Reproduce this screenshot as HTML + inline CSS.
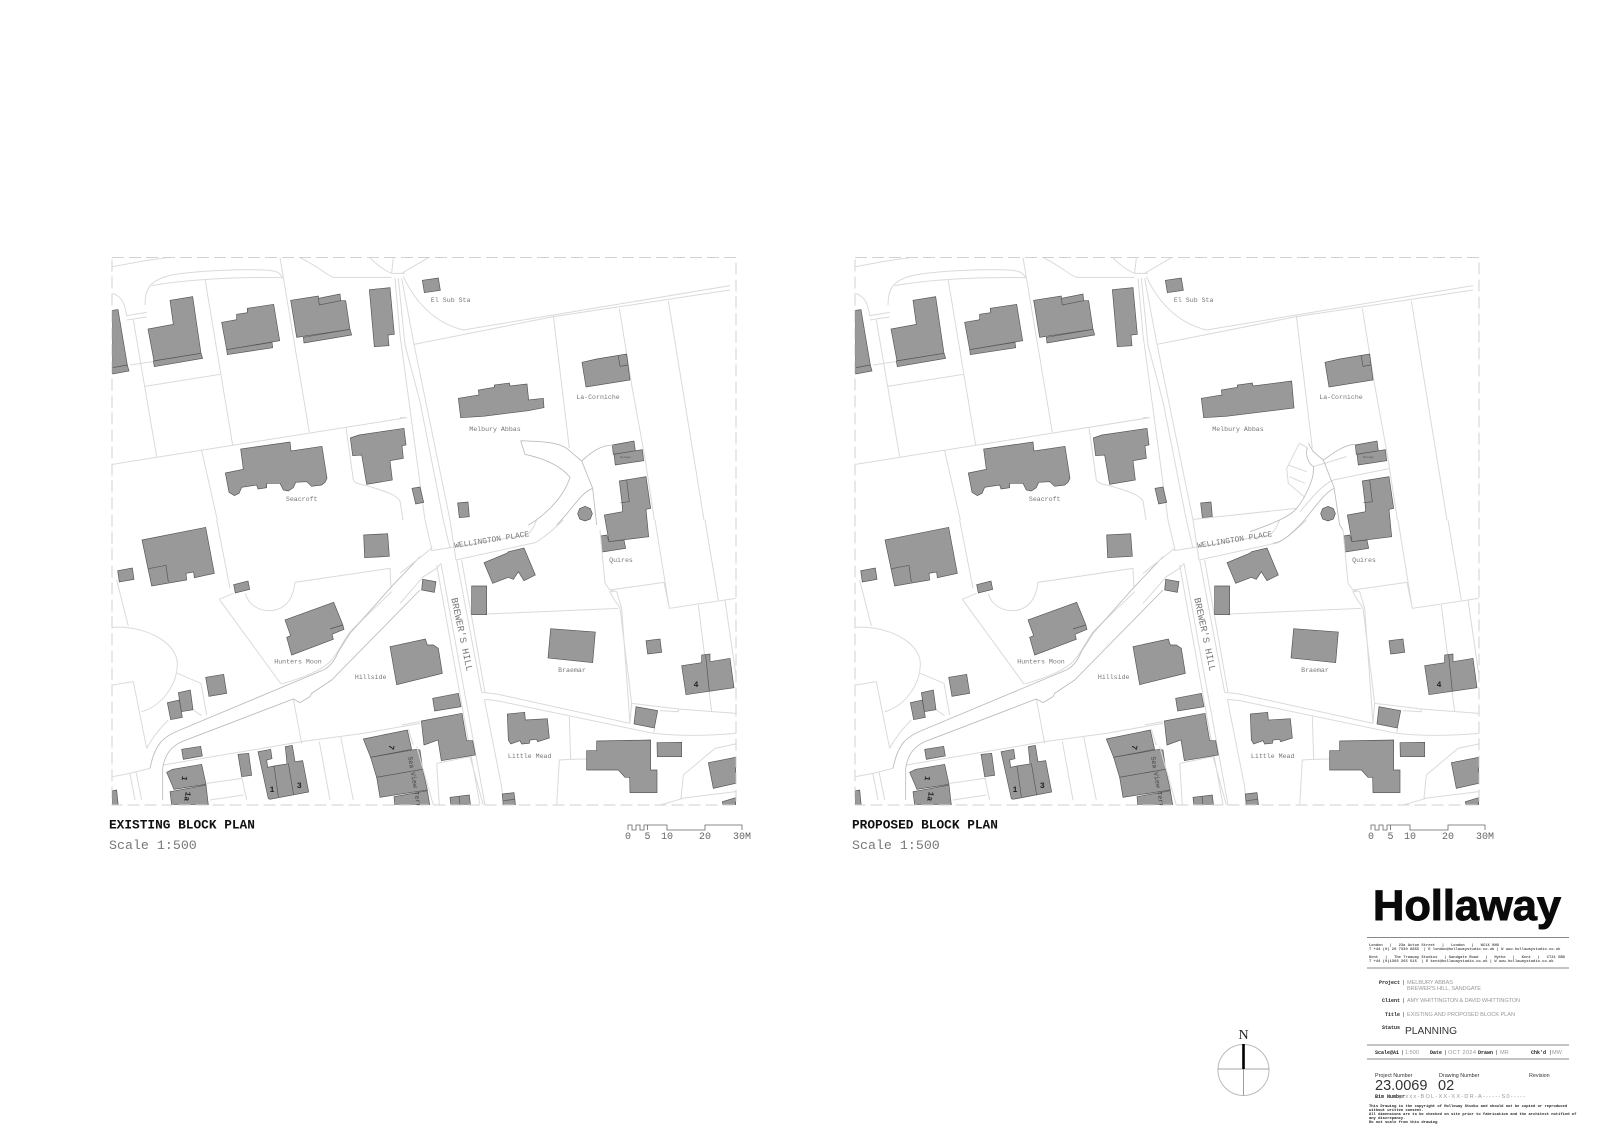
<!DOCTYPE html>
<html lang="en"><head><meta charset="utf-8"><title>Block Plan</title>
<style>
html,body{margin:0;padding:0;background:#fff;width:1600px;height:1130px;overflow:hidden}
svg{display:block}
.b polygon,.b circle{fill:#999;stroke:#555;stroke-width:2}
.b path{fill:none;stroke:#555;stroke-width:2}
.l path{fill:none;stroke:#dadada;stroke-width:3}
.r path{fill:none;stroke:#bcbcbc;stroke-width:2.6}
.m{font-family:"Liberation Mono",monospace;fill:#777;font-size:6.6px;text-anchor:middle}
.k{font-family:"Liberation Mono",monospace;fill:#222;font-size:8px;text-anchor:middle;font-weight:bold}
.s{font-family:"Liberation Mono",monospace;fill:#666;font-size:10px;text-anchor:middle}
.t{font-family:"Liberation Mono",monospace;font-weight:bold;fill:#222;font-size:5px}
.g{font-family:"Liberation Sans",sans-serif;fill:#999;font-size:5.6px}
.f{font-family:"Liberation Mono",monospace;font-weight:bold;fill:#555;font-size:3.8px}
.h{font-family:"Liberation Sans",sans-serif;fill:#333}
</style></head><body>
<svg width="1600" height="1130" viewBox="0 0 1600 1130" xmlns="http://www.w3.org/2000/svg">
<defs>
<clipPath id="pc"><rect x="112" y="257.5" width="624" height="547.5"/></clipPath>
<g id="common">
<g clip-path="url(#pc)">
<!-- zone A -->
<g transform="translate(100,245) scale(.33333)">
<g class="l">
<path d="M38,65 L130,48 L200,38 M135,180 C135,130 150,105 215,90 C300,75 480,70 520,78 C535,80 545,90 548,100 M155,122 C250,105 400,95 545,98 M540,38 L628,562 M600,38 C640,55 680,90 700,97 L875,97 M810,38 C830,60 860,80 875,85 M880,38 L875,85 M38,145 C65,155 75,175 80,212 L140,202 M80,225 L140,216 M100,225 L170,635 M90,360 L158,350 M135,424 L360,388 M315,102 L398,600 M38,658 L920,518 M305,617 L352,825 M738,548 L760,705 C765,715 780,718 800,722 C860,740 890,750 900,768 L909,825"/>
</g>
<g class="b">
<polygon points="38,196 54,194 82,360 38,368"/><polygon points="38,368 82,360 87,378 38,387"/>
<polygon points="210,166 278,155 303,325 162,348 144,252 220,238"/><polygon points="160,348 303,325 308,340 163,365"/>
<polygon points="365,232 410,224 410,208 442,203 442,190 521,178 539,287 380,314"/><polygon points="380,314 516,292 518,308 382,329"/>
<polygon points="572,166 655,153 655,160 720,147 722,167 737,167 750,253 590,277"/><polygon points="610,277 750,253 755,270 612,294"/><path d="M655,160 L658,180 L722,167"/>
<polygon points="808,134 870,128 883,268 864,270 867,302 823,305"/>
<polygon points="376,684 430,673 422,612 570,591 573,618 666,604 681,700 675,712 665,720 635,724 620,710 587,712 580,728 565,738 550,735 540,715 500,715 500,728 474,732 470,720 425,727 417,745 403,752 387,742"/>
<polygon points="751,579 777,570 912,550 918,600 906,602 910,640 870,647 877,705 800,718 785,630 758,632"/>
</g>
</g>
<!-- zone B -->
<g transform="translate(400,245) scale(.33333)">
<g class="l">
<path d="M-15,100 L0,270 L75,825 L95,910 M-5,100 L15,300 L60,470 L130,825 L150,910 M5,100 L42,298 L150,825 L168,945 M10,95 C60,200 130,240 190,255 L460,210 L990,122 M42,298 L460,215 L660,185 L990,135 M460,212 L508,610 M658,190 L695,420 L735,640 L763,825 M805,168 L912,825 M0,518 L20,518 M5,85 L85,38 M-25,85 L15,85"/>
</g>
<g class="b">
<polygon points="36,730 60,726 71,772 47,777"/>
<polygon points="67,106 115,99 121,136 73,143"/>
<polygon points="546,352 590,342 680,327 690,405 558,426"/><path d="M655,333 L660,364 L684,360"/>
<polygon points="173,774 204,771 208,815 178,818"/>
<polygon points="637,600 702,588 706,618 640,628"/><polygon points="642,628 727,614 731,647 646,660"/>
<polygon points="658,708 738,695 752,790 738,793 746,875 627,890 613,810 668,800 666,773"/><path d="M680,705 L688,770 L662,773"/>
<polygon points="602,873 620,870 627,890 672,885 677,910 607,921"/>
<polygon points="555,784 571,791 577,806 571,822 555,828 539,822 533,806 539,791"/>
</g>
</g>
<!-- zone C -->
<g transform="translate(100,520) scale(.33333)">
<g class="l">
<path d="M350,0 L390,205 M50,180 L85,318 M358,238 L401,220 M358,238 L543,492 M436,220 C445,255 475,272 510,272 C550,270 578,245 585,187 L870,145 L873,205 M545,492 C620,470 665,450 690,425 C710,405 720,380 750,335 L875,215 M38,322 C120,315 230,360 232,430 C232,500 180,560 125,575 M38,495 L100,485 L140,685 M232,460 L303,490 L320,585 M280,570 L305,587 M140,685 C165,640 190,615 205,600 M150,745 L90,760 L38,770 M580,537 L605,670 M190,735 L605,665 L790,640 L960,610 M658,665 L690,840 M722,650 L760,840 M108,755 L125,840 M90,762 L105,840 M320,790 L425,775 M425,770 L440,840 M330,840 L430,825"/>
</g>
<g class="r">
<path d="M960,110 L870,205 L750,340 L715,395 C705,420 690,440 670,450 L240,630 C190,650 165,670 150,745 M960,210 L695,480 L635,520 L630,530 L600,548 L580,537 L245,665 C215,680 195,700 188,745 L188,840"/>
</g>
<g class="b">
<polygon points="126,60 317,22 343,160 283,173 281,156 258,160 260,180 155,198"/><path d="M145,146 L198,136 L205,186"/>
<polygon points="53,152 97,144 102,178 58,186"/>
<polygon points="791,45 863,41 868,109 794,113"/>
<polygon points="401,194 444,183 449,208 406,219"/>
<polygon points="555,300 701,247 728,313 732,328 696,343 700,358 575,405 560,352 572,347"/><path d="M690,327 L728,315"/>
<polygon points="317,472 371,463 380,520 327,529"/>
<polygon points="235,518 271,510 279,569 244,575"/>
<polygon points="202,548 238,540 247,592 212,599"/>
<polygon points="245,688 302,679 307,708 250,718"/>
<polygon points="414,703 446,700 455,766 425,770"/>
<polygon points="474,695 512,688 516,716 500,720 503,742 522,738 561,732 556,680 577,676 585,725 608,722 626,816 510,838 505,836"/><path d="M522,738 L535,830 M565,730 L581,825"/>
<polygon points="200,757 218,748 305,733 318,793 222,808"/>
<polygon points="210,815 318,795 325,855 215,855"/>
<polygon points="790,657 922,630 935,688 812,712"/>
<polygon points="812,712 948,688 960,690 968,748 830,772"/>
<polygon points="830,772 968,748 982,810 840,832"/>
<polygon points="882,830 982,812 990,860 885,860"/>
<polygon points="38,812 50,810 55,860 38,860"/>
</g>
</g>
<!-- zone D -->
<g transform="translate(400,520) scale(.33333)">
<g class="l">
<path d="M0,160 L95,85 L95,92 L380,45 C400,30 405,10 410,0 M0,250 L70,170 L110,145 L123,130 M170,120 L245,517 M185,120 L255,518 M245,517 L290,522 L690,610 M253,538 L290,542 L760,640 L765,625 M253,538 L305,800 L310,855 M123,130 L205,580 L255,855 M110,135 L190,580 L240,855 M168,120 L405,68 C430,55 470,20 490,0 M600,30 L615,190 L630,210 L650,215 L665,265 L690,610 M640,215 L630,215 C640,240 660,260 660,265 L695,550 L690,610 M630,210 L792,187 L808,265 L1007,235 M765,0 L808,265 M915,0 L955,240 M895,255 L935,575 M975,240 L1007,460 M260,282 L655,265 M695,550 L835,567 L835,575 L780,572 M835,567 L1007,580 M763,640 C850,650 950,645 1007,640 M508,590 L512,718 L478,720 L470,855 M512,718 L560,717 M850,765 L843,835 L925,825 M850,765 L945,685 L1007,672 M843,835 L1007,815 M780,855 L850,835 M110,730 L118,855 M110,730 L210,710 L250,855 M50,680 L100,855 M5,615 L60,605 M25,628 L40,675"/>
</g>
<g class="b">
<polygon points="252,128 320,100 326,95 372,84 406,165 372,182 355,155 340,178 325,172 278,190"/>
<polygon points="215,198 260,198 260,284 215,284"/>
<polygon points="68,178 108,185 103,217 65,210"/>
<polygon points="-30,380 76,357 82,375 100,375 115,385 127,460 -10,494"/>
<polygon points="98,535 175,520 183,560 104,573"/>
<polygon points="64,603 186,580 200,662 218,662 226,705 124,722 114,660 72,675"/>
<polygon points="452,326 586,336 578,428 444,414"/>
<polygon points="738,362 780,357 785,397 743,402"/>
<polygon points="845,437 905,428 905,405 930,402 930,425 990,415 1002,503 858,524"/><path d="M917,405 L928,515"/>
<polygon points="708,560 773,572 763,624 702,612"/>
<polygon points="322,582 374,577 376,600 442,596 448,654 413,665 410,658 390,660 388,670 365,672 360,662 332,672 325,660"/>
<polygon points="590,663 752,660 752,750 771,750 771,818 690,818 689,772 675,772 655,750 560,750 560,692 590,692"/>
<polygon points="771,668 845,667 845,710 772,710"/>
<polygon points="925,728 1007,712 1007,790 940,805"/>
<polygon points="150,832 208,825 212,860 153,860"/><path d="M177,830 L180,855"/>
<polygon points="307,822 342,818 347,860 310,860"/><path d="M310,842 L345,838"/>
<polygon points="967,845 1007,833 1007,860 970,860"/>
</g>
</g>
</g>
<!-- frame -->
<rect x="112" y="257.5" width="624" height="547.5" fill="none" stroke="#d2d2d2" stroke-width="1" stroke-dasharray="12,5"/>
<!-- scale bar -->
<path d="M628,830 V825 H632 V830 H636 V825 H640 V830 H644 V825 H647.5 V830 M647.5,825 H667 V830 H705 V825 H742 V830" fill="none" stroke="#666" stroke-width=".8"/>
</g>
</defs>

<use href="#common"/>
<g>
<text class="m" x="450.7" y="302">El Sub Sta</text>
<text class="m" x="598" y="399">La-Corniche</text>
<text class="m" x="495" y="431">Melbury Abbas</text>
<text class="m" x="301.7" y="501">Seacroft</text>
<text class="m" x="298" y="663.5">Hunters Moon</text>
<text class="m" x="370.7" y="679">Hillside</text>
<text class="m" x="621" y="562">Quires</text>
<text class="m" x="572" y="672">Braemar</text>
<text class="m" x="529.7" y="758">Little Mead</text>
<text class="f" style="font-size:3px;fill:#666" x="620" y="458">Garage</text>
<text class="m" style="font-size:7.9px" transform="translate(492,542) rotate(-9)">WELLINGTON PLACE</text>
<text class="m" style="font-size:9.6px" transform="translate(459,635) rotate(78)">BREWER'S HILL</text>
<text class="k" x="696" y="687">4</text>
<text class="k" transform="translate(389,747) rotate(100)">7</text>
<text class="k" transform="translate(182,778) rotate(100)">1</text>
<text class="k" transform="translate(185,796) rotate(100)">1a</text>
<text class="k" x="272" y="792">1</text>
<text class="k" x="299.3" y="788">3</text>
<g clip-path="url(#pc)"><text class="m" style="fill:#444" transform="translate(413.5,788) rotate(80)">Sea View Terrace</text></g>
<text x="109" y="828.5" font-family="Liberation Mono,monospace" font-weight="bold" font-size="12.8" fill="#111">EXISTING BLOCK PLAN</text>
<text x="109" y="849" font-family="Liberation Mono,monospace" font-size="13.3" fill="#777">Scale 1:500</text>
<text class="s" x="628" y="839">0</text><text class="s" x="647.5" y="839">5</text><text class="s" x="667" y="839">10</text><text class="s" x="705" y="839">20</text><text class="s" x="742" y="839">30M</text>
</g>
<!-- existing only -->
<g transform="translate(400,245) scale(.33333)">
<g class="r"><path d="M362,587 L375,628 C430,640 480,660 510,697 C490,760 430,815 385,840 M362,587 C420,590 470,590 500,610 L545,648 L578,730 L590,840 M545,648 C570,625 600,600 640,600 M578,730 C540,745 520,790 470,840"/></g>
<g class="b"><polygon points="175,460 237,450 235,435 283,427 283,420 328,414 330,423 381,417 386,465 430,460 432,488 385,497 250,514 182,518"/></g>
</g>

<g transform="translate(743,0)">
<use href="#common"/>
<text class="m" x="450.7" y="302">El Sub Sta</text>
<text class="m" x="598" y="399">La-Corniche</text>
<text class="m" x="495" y="431">Melbury Abbas</text>
<text class="m" x="301.7" y="501">Seacroft</text>
<text class="m" x="298" y="663.5">Hunters Moon</text>
<text class="m" x="370.7" y="679">Hillside</text>
<text class="m" x="621" y="562">Quires</text>
<text class="m" x="572" y="672">Braemar</text>
<text class="m" x="529.7" y="758">Little Mead</text>
<text class="f" style="font-size:3px;fill:#666" x="620" y="458">Garage</text>
<text class="m" style="font-size:7.9px" transform="translate(492,542) rotate(-9)">WELLINGTON PLACE</text>
<text class="m" style="font-size:9.6px" transform="translate(459,635) rotate(78)">BREWER'S HILL</text>
<text class="k" x="696" y="687">4</text>
<text class="k" transform="translate(389,747) rotate(100)">7</text>
<text class="k" transform="translate(182,778) rotate(100)">1</text>
<text class="k" transform="translate(185,796) rotate(100)">1a</text>
<text class="k" x="272" y="792">1</text>
<text class="k" x="299.3" y="788">3</text>
<g clip-path="url(#pc)"><text class="m" style="fill:#444" transform="translate(413.5,788) rotate(80)">Sea View Terrace</text></g>
<text x="109" y="828.5" font-family="Liberation Mono,monospace" font-weight="bold" font-size="12.8" fill="#111">PROPOSED BLOCK PLAN</text>
<text x="109" y="849" font-family="Liberation Mono,monospace" font-size="13.3" fill="#777">Scale 1:500</text>
<text class="s" x="628" y="839">0</text><text class="s" x="647.5" y="839">5</text><text class="s" x="667" y="839">10</text><text class="s" x="705" y="839">20</text><text class="s" x="742" y="839">30M</text>
<g transform="translate(400,245) scale(.33333)">
<g class="b"><polygon points="175,460 237,450 235,435 283,427 283,420 328,414 330,423 446,408 453,489 250,514 182,518"/></g>
</g>
</g>
<!-- proposed driveway -->
<g transform="translate(1170,400) scale(.33333)">
<g class="l"><path d="M388,130 L350,205 L355,250 L402,290 M388,130 L412,143 M355,195 L410,215 M358,230 L405,250 M430,200 L530,170 M490,240 L660,205 M490,240 C455,255 420,300 390,335 M70,358 L380,325"/></g>
<g class="r"><path d="M412,143 C405,165 415,190 430,200 M415,130 L430,155 L460,180 L492,262 L509,375 L519,390 M460,180 C490,160 520,135 555,133 M430,200 C435,240 400,300 380,325 C360,350 310,370 240,395 M492,265 C460,280 430,330 395,370 C360,405 340,425 310,430"/></g>
</g>

<!-- north -->
<g>
<text x="1243.5" y="1039" text-anchor="middle" font-family="Liberation Serif,serif" font-size="14" fill="#222">N</text>
<circle cx="1243.5" cy="1070" r="25.5" fill="none" stroke="#bbb" stroke-width="1"/>
<path d="M1218,1069 H1269 M1243.5,1069 V1095.5" stroke="#888" stroke-width=".8"/>
<path d="M1243.5,1044 V1069" stroke="#000" stroke-width="2.6"/>
</g>

<!-- title block -->
<text x="1373" y="920" font-family="Liberation Sans,sans-serif" font-weight="bold" font-size="43" textLength="188" lengthAdjust="spacingAndGlyphs" fill="#0a0a0a" stroke="#0a0a0a" stroke-width="1">Hollaway</text>
<path d="M1367,937.5 H1569 M1367,968 H1569 M1367,1045 H1569 M1367,1059 H1569" stroke="#888" stroke-width=".9"/>
<text class="f" x="1369" y="946">London &#160; | &#160; 23a Acton Street &#160; | &#160; London &#160; | &#160; WC1X 9NG</text>
<text class="f" x="1369" y="950">T +44 (0) 20 7330 8855 &#160;| E london@hollawaystudio.co.uk | W www.hollawaystudio.co.uk</text>
<text class="f" x="1369" y="958">Kent &#160; | &#160; The Tramway Studios &#160; | Sandgate Road &#160; | &#160; Hythe &#160; | &#160; Kent &#160; | &#160; CT21 5BD</text>
<text class="f" x="1369" y="962">T +44 (0)1303 265 515 &#160;| E kent@hollawaystudio.co.uk | W www.hollawaystudio.co.uk</text>

<text class="t" x="1400" y="984" text-anchor="end">Project</text><text class="g" x="1403" y="984" style="fill:#333">|</text>
<text class="g" x="1407" y="984" textLength="46">MELBURY ABBAS</text>
<text class="g" x="1407" y="990" textLength="74">BREWER'S HILL, SANDGATE</text>
<text class="t" x="1400" y="1002" text-anchor="end">Client</text><text class="g" x="1403" y="1002" style="fill:#333">|</text>
<text class="g" x="1407" y="1002" textLength="113">AMY WHITTINGTON &amp; DAVID WHITTINGTON</text>
<text class="t" x="1400" y="1016" text-anchor="end">Title</text><text class="g" x="1403" y="1016" style="fill:#333">|</text>
<text class="g" x="1407" y="1016" textLength="108">EXISTING AND PROPOSED BLOCK PLAN</text>
<text class="t" x="1400" y="1029" text-anchor="end">Status</text>
<text class="h" x="1405" y="1034" font-size="10.2">PLANNING</text>

<text class="t" x="1375" y="1054">Scale@A1</text><text class="g" x="1402" y="1054" style="fill:#333">|</text><text class="g" x="1405" y="1054">1:500</text>
<text class="t" x="1430" y="1054">Date</text><text class="g" x="1445" y="1054" style="fill:#333">|</text><text class="g" x="1448" y="1054" textLength="28">OCT 2024</text>
<text class="t" x="1478" y="1054">Drawn</text><text class="g" x="1496" y="1054" style="fill:#333">|</text><text class="g" x="1500" y="1054">MR</text>
<text class="t" x="1531" y="1054">Chk'd</text><text class="g" x="1550" y="1054" style="fill:#333">|</text><text class="g" x="1552" y="1054">MW</text>

<text class="h" x="1375" y="1077" font-size="5.4">Project Number</text>
<text class="h" x="1439" y="1077" font-size="5.4">Drawing Number</text>
<text class="h" x="1529" y="1077" font-size="5.4">Revision</text>
<text class="h" x="1375" y="1090" font-size="14.5" fill="#111">23.0069</text>
<text class="h" x="1438" y="1090" font-size="14.5" fill="#111">02</text>
<text class="t" x="1375" y="1098">Bim Number</text>
<text class="g" x="1399" y="1098" textLength="126">y.xxx-BOL-XX-XX-DR-A------S0-----</text>
<text class="f" x="1369" y="1107" style="fill:#222">This Drawing is the copyright of Holloway Studio and should not be copied or reproduced</text>
<text class="f" x="1369" y="1111" style="fill:#222">without written consent.</text>
<text class="f" x="1369" y="1115" style="fill:#222">All dimensions are to be checked on site prior to fabrication and the architect notified of</text>
<text class="f" x="1369" y="1119" style="fill:#222">any discrepancy.</text>
<text class="f" x="1369" y="1123" style="fill:#222">Do not scale from this drawing</text>
</svg>
</body></html>
